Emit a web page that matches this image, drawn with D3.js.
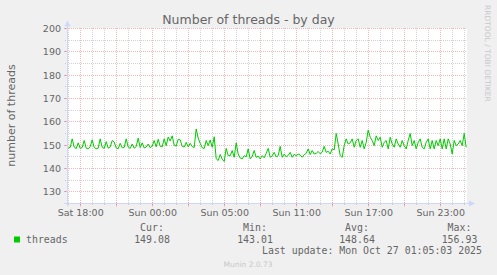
<!DOCTYPE html>
<html>
<head>
<meta charset="utf-8">
<script src="https://cdn.jsdelivr.net/npm/d3@7"></script>
<style>
  html, body { margin: 0; padding: 0; background: #f0f0f0; }
  svg { display: block; }
</style>
</head>
<body>
<svg id="chart" width="497" height="275"></svg>
<script>
// y axis ticks (number of threads)
const yTicks = [130, 140, 150, 160, 170, 180, 190, 200];

// x axis labels and where they sit (UTC, the clock jumps back an hour on Oct 26)
const xTickLabels = ['Sat 18:00', 'Sun 00:00', 'Sun 05:00', 'Sun 11:00', 'Sun 17:00', 'Sun 23:00'];
const xTickTimes = ['2025-10-25T16:00Z', '2025-10-25T22:00Z', '2025-10-26T04:00Z',
                    '2025-10-26T10:00Z', '2025-10-26T16:00Z', '2025-10-26T22:00Z'];

// graph window and sampling
const windowStart = '2025-10-25T14:54Z';
const windowEnd = '2025-10-27T00:14Z';
const firstSample = '2025-10-25T15:00Z';
const sampleMinutes = 10;

// threads, one value every 10 minutes
const threads = [
  148.8, 149.0, 152.7, 149.2, 148.5, 151.0, 148.6, 149.0, 152.0, 148.7,
  148.4, 149.3, 152.3, 149.0, 148.5, 148.7, 152.7, 149.1, 148.6, 151.5,
  148.7, 149.2, 152.0, 151.3, 148.8, 148.5, 150.8, 148.9, 149.0, 152.7,
  149.2, 148.6, 150.5, 148.7, 149.4, 153.0, 149.0, 151.0, 148.8, 149.2,
  150.5, 148.9, 149.6, 152.0, 149.3, 152.5, 149.5, 149.3, 152.7, 149.8,
  153.5, 151.8, 154.0, 150.0, 149.6, 152.5, 152.3, 149.5, 149.2, 151.2,
  149.3, 150.8, 149.4, 149.0, 156.93, 153.0,
  150.8, 148.9, 148.6, 152.0, 149.8, 152.2, 149.1, 153.6, 144.2, 143.4,
  146.0, 144.0, 143.01, 148.6, 145.5, 145.5, 147.7, 144.8, 151.0, 146.2,
  144.5, 144.1, 145.5, 145.0, 148.4, 144.1, 145.2, 147.7, 144.8, 145.3,
  144.1, 145.5, 144.6, 146.5, 148.6, 144.8, 145.4, 146.9, 145.0, 145.5,
  149.5, 144.8, 146.2, 145.0, 145.6, 146.9, 144.8, 146.1, 145.5, 146.2,
  145.8, 144.8, 145.9, 146.5, 148.4, 146.0, 147.7, 146.2, 146.5, 147.3,
  146.3, 147.0, 149.5, 146.9, 147.4, 146.2, 148.4,
  148.0, 155.0, 150.5, 145.5, 144.8, 149.8, 152.7, 150.5, 151.0, 152.7,
  149.1, 152.0, 152.7, 149.1, 152.0, 148.4, 151.2, 156.5, 153.4, 152.0,
  149.8, 154.0, 152.0, 153.4, 149.1, 151.2, 152.0, 148.4, 153.4, 150.5,
  149.1, 152.7, 150.5, 149.1, 152.0, 149.8, 148.4, 152.0, 155.0, 149.8,
  152.0, 148.4, 151.2, 152.7, 149.1, 148.4, 151.2, 152.7, 148.4, 152.0,
  148.4, 152.0, 149.8, 152.7, 148.4, 152.7, 148.4, 152.7, 150.5, 146.2,
  152.0, 149.8, 150.5, 152.0, 149.8, 155.0, 149.08
];

// legend
const legendHeads = ['Cur:', 'Min:', 'Avg:', 'Max:'];
const legendValues = ['149.08', '143.01', '148.64', '156.93'];

const sans = 'DejaVu Sans, sans-serif';
const mono = 'DejaVu Sans Mono, monospace';
const fontColor = '#666666';
const axisColor = '#cfd6f8';
const gridColor = 'rgba(143,143,143,0.4)';
const mgridColor = 'rgba(230,70,70,0.38)';

const plot = { left: 67, right: 467, top: 28.5, bottom: 203.5 };

const svg = d3.select('#chart');
const px = v => Math.floor(v) + 0.5;

const data = threads.map((v, i) => ({
  t: d3.utcMinute.offset(new Date(firstSample), i * sampleMinutes),
  v
}));

const x = d3.scaleUtc()
  .domain([new Date(windowStart), new Date(windowEnd)])
  .range([plot.left, plot.right]);

const y = d3.scaleLinear()
  .domain([125, 200])
  .range([plot.bottom, plot.top]);

// canvas
svg.append('rect')
  .attr('x', plot.left).attr('y', plot.top - 0.5)
  .attr('width', plot.right - plot.left).attr('height', plot.bottom - plot.top)
  .attr('fill', '#ffffff');

// minor horizontal grid (every 5)
const minorY = d3.range(135, 200, 10);
svg.append('g').selectAll('line').data(minorY).join('line')
  .attr('x1', plot.left - 2).attr('x2', plot.right)
  .attr('y1', d => px(y(d))).attr('y2', d => px(y(d)))
  .attr('stroke', gridColor).attr('stroke-dasharray', '1,1');

// vertical grid: hourly, major every 3 hours
const hours = d3.utcHour.range(x.domain()[0], x.domain()[1]);
svg.append('g').selectAll('line').data(hours.filter(h => h.getUTCHours() % 3 !== 1)).join('line')
  .attr('x1', d => px(x(d))).attr('x2', d => px(x(d)))
  .attr('y1', plot.top - 0.5).attr('y2', plot.bottom + 2)
  .attr('stroke', gridColor).attr('stroke-dasharray', '1,1');

svg.append('g').selectAll('line').data(hours.filter(h => h.getUTCHours() % 3 === 1)).join('line')
  .attr('x1', d => px(x(d))).attr('x2', d => px(x(d)))
  .attr('y1', plot.top - 0.5).attr('y2', plot.bottom + 2)
  .attr('stroke', mgridColor).attr('stroke-dasharray', '1,1');

// major horizontal grid
svg.append('g').selectAll('line').data(yTicks).join('line')
  .attr('x1', plot.left - 2).attr('x2', plot.right)
  .attr('y1', d => px(y(d))).attr('y2', d => px(y(d)))
  .attr('stroke', mgridColor).attr('stroke-dasharray', '1,1');

// solid tick marks on the axes
svg.append('g').selectAll('line').data(yTicks).join('line')
  .attr('x1', plot.left - 3).attr('x2', plot.left + 1)
  .attr('y1', d => px(y(d))).attr('y2', d => px(y(d)))
  .attr('stroke', mgridColor);
svg.append('g').selectAll('line').data(hours.filter(h => h.getUTCHours() % 3 === 1)).join('line')
  .attr('x1', d => px(x(d))).attr('x2', d => px(x(d)))
  .attr('y1', plot.bottom - 1).attr('y2', plot.bottom + 3)
  .attr('stroke', mgridColor);

// axes with arrows
svg.append('line')
  .attr('x1', px(plot.left)).attr('x2', px(plot.left))
  .attr('y1', plot.bottom + 3).attr('y2', plot.top - 4)
  .attr('stroke', axisColor);
svg.append('line')
  .attr('x1', plot.left - 3).attr('x2', plot.right + 3)
  .attr('y1', px(plot.bottom)).attr('y2', px(plot.bottom))
  .attr('stroke', axisColor);
svg.append('path')
  .attr('d', `M${px(plot.left) - 3},${plot.top - 2} L${px(plot.left)},${plot.top - 8} L${px(plot.left) + 3},${plot.top - 2} Z`)
  .attr('fill', axisColor);
svg.append('path')
  .attr('d', `M${plot.right + 2},${px(plot.bottom) - 3} L${plot.right + 8},${px(plot.bottom)} L${plot.right + 2},${px(plot.bottom) + 3} Z`)
  .attr('fill', axisColor);

// y tick labels
svg.append('g').selectAll('text').data(yTicks).join('text')
  .attr('x', plot.left - 6)
  .attr('y', d => y(d) + 3.5)
  .attr('text-anchor', 'end')
  .style('font-family', sans).style('font-size', '9.5px').style('fill', fontColor)
  .text(d => d);

// x tick labels
svg.append('g').selectAll('text').data(xTickTimes).join('text')
  .attr('x', d => x(new Date(d)) + 0.5)
  .attr('y', 216)
  .attr('text-anchor', 'middle')
  .style('font-family', sans).style('font-size', '9.5px').style('fill', fontColor)
  .text((d, i) => xTickLabels[i]);

// the series
const line = d3.line()
  .x(d => x(d.t))
  .y(d => y(d.v));

svg.append('path')
  .datum(data)
  .attr('fill', 'none')
  .attr('stroke', '#00cc00')
  .attr('stroke-width', 1)
  .attr('d', line);

// title
svg.append('text')
  .attr('x', 248.5).attr('y', 24)
  .attr('text-anchor', 'middle')
  .style('font-family', sans).style('font-size', '12.5px').style('fill', fontColor)
  .text('Number of threads - by day');

// vertical label
svg.append('text')
  .attr('transform', 'translate(15,115.5) rotate(-90)')
  .attr('text-anchor', 'middle')
  .style('font-family', sans).style('font-size', '11px').style('fill', fontColor)
  .text('number of threads');

// watermark on the right
svg.append('text')
  .attr('transform', 'translate(485,5) rotate(90)')
  .attr('text-anchor', 'start')
  .style('font-family', sans).style('font-size', '7.5px').style('fill', '#c8c8c8')
  .text('RRDTOOL / TOBI OETIKER');

// legend
const colX = [152, 255, 357, 459.5];
svg.append('g').selectAll('text').data(legendHeads).join('text')
  .attr('x', (d, i) => colX[i]).attr('y', 230.5)
  .attr('text-anchor', 'middle')
  .style('font-family', mono).style('font-size', '9.9px').style('fill', fontColor)
  .text(d => d);
svg.append('g').selectAll('text').data(legendValues).join('text')
  .attr('x', (d, i) => colX[i]).attr('y', 243)
  .attr('text-anchor', 'middle')
  .style('font-family', mono).style('font-size', '9.9px').style('fill', fontColor)
  .text(d => d);

svg.append('rect')
  .attr('x', 14).attr('y', 236.5).attr('width', 6).attr('height', 6)
  .attr('fill', '#00cc00');
svg.append('text')
  .attr('x', 26).attr('y', 243)
  .style('font-family', mono).style('font-size', '9.9px').style('fill', fontColor)
  .text('threads');

svg.append('text')
  .attr('x', 482).attr('y', 254)
  .attr('text-anchor', 'end')
  .style('font-family', mono).style('font-size', '9.9px').style('fill', fontColor)
  .style('white-space', 'pre')
  .text('Last update: Mon Oct 27 01:05:03 2025');

svg.append('text')
  .attr('x', 248).attr('y', 267)
  .attr('text-anchor', 'middle')
  .style('font-family', sans).style('font-size', '7.5px').style('fill', '#c8c8c8')
  .text('Munin 2.0.73');
</script>
</body>
</html>
